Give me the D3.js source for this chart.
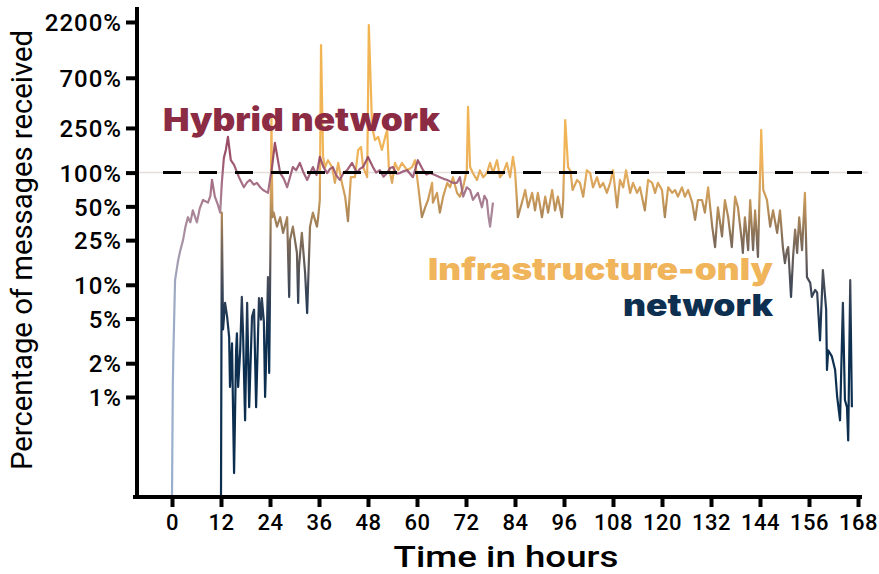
<!DOCTYPE html>
<html>
<head>
<meta charset="utf-8">
<script src="https://cdn.jsdelivr.net/npm/d3@7/dist/d3.min.js"></script>
<style>
  html, body { margin: 0; padding: 0; background: #fff; }
  svg { display: block; }
  .tick text { font-family: Roboto, "Noto Sans", sans-serif; font-weight: 500; fill: #000; }
</style>
</head>
<body>
<svg id="chart" width="879" height="574"></svg>
<script>
// Tick values (percent, log axis) and time ticks (hours)
const yTicks = [1, 2, 5, 10, 25, 50, 100, 250, 700, 2200];
const xTicks = [0, 12, 24, 36, 48, 60, 72, 84, 96, 108, 120, 132, 144, 156, 168];

// Hybrid network: [hour, % of messages received]
const hybridSeries = [
  [0,0],[0.2,1.3],[0.35,2.6],[0.75,11],[1.5,16.5],[2.0,20],[2.7,25],[3.3,33],[3.9,40],[4.5,36],
  [5.1,46],[6.1,36],[6.8,48],[7.6,57],[8.8,54],[9.4,62],[9.8,86],[10.5,61],[11.2,52],[11.8,44],
  [12.2,81],[12.7,135],[13.2,160],[13.7,208],[14.4,129],[15.2,117],[16.4,91],[17.6,74],[18.4,82],[19.1,86],
  [20.0,78],[20.8,81],[21.6,74],[22.3,70],[23.5,66],[24.5,112],[25.2,184],[26.5,99],[27.4,88],[28.2,74],
  [29.6,112],[30.4,105],[31.3,122],[32.2,100],[33.1,86],[34.5,112],[35.4,95],[36.2,138],[37.1,112],[38.0,99],
  [38.7,108],[39.4,112],[40.2,95],[41.1,86],[42.0,99],[42.9,105],[44.1,122],[45.3,99],[46.0,108],[46.8,112],
  [48.0,138],[49.2,112],[50.0,100],[50.9,105],[51.8,92],[52.7,99],[53.4,110],[54.1,112],[55.0,98],[55.8,99],
  [56.7,103],[57.6,105],[59.0,91],[60.2,129],[61.5,105],[62.3,96],[63.2,99],[64.4,95],[65.6,91],[66.5,88],
  [67.4,86],[68.8,81],[69.8,81],[70.5,91],[71.3,61],[72.2,74],[73.0,70],[73.7,57],[74.9,66],[75.4,57],
  [75.9,49],[76.5,62],[77.1,57],[77.5,41],[77.9,33],[78.6,54]
];

// Infrastructure-only network: [hour, % of messages received]
const infraSeries = [
  [12.0,0],[12.2,44],[12.5,4.0],[13.0,6.9],[13.5,5.2],[14.0,3.4],[14.2,1.23],[14.7,3.0],[14.9,1.0],[15.2,0.21],
  [15.7,2.6],[15.9,3.7],[16.2,1.23],[16.7,2.6],[17.1,7.8],[17.4,3.7],[17.9,0.62],[18.4,6.9],[18.9,0.81],[19.6,5.2],
  [20.1,6.0],[20.6,0.81],[21.3,7.6],[21.8,4.9],[22.0,7.6],[22.5,4.7],[22.8,1.0],[23.3,4.6],[23.5,11.7],[23.8,1.64],
  [24.1,20],[24.35,307],[24.6,40],[24.9,44],[25.7,33],[26.5,40],[27.2,29],[28.2,40],[28.7,7.8],[28.9,25],
  [29.6,33],[30.6,19.2],[30.9,6.9],[31.1,14.4],[31.8,29],[32.6,12.7],[33.1,5.6],[33.8,33],[34.5,44],[35.5,33],
  [35.8,40],[36.2,57],[36.5,1371],[37.0,138],[37.5,112],[38.2,129],[39.2,112],[39.9,81],[40.7,122],[41.6,81],
  [42.4,61],[43.1,37],[43.8,91],[44.8,91],[45.6,159],[46.3,169],[46.8,112],[47.8,91],[48.2,2068],[49.0,255],
  [49.7,195],[50.5,208],[51.4,159],[52.2,208],[52.7,240],[53.1,112],[53.9,81],[54.6,122],[55.4,105],[56.3,122],
  [57.6,105],[58.8,112],[59.5,129],[60.2,81],[61.2,40],[62.0,49],[62.7,57],[63.7,81],[63.9,54],[64.9,66],
  [65.6,44],[66.4,61],[67.4,81],[68.1,74],[68.8,91],[69.8,66],[70.5,61],[71.3,74],[72.2,105],[72.5,385],
  [73.0,112],[73.7,99],[74.7,86],[75.4,105],[76.2,91],[77.1,99],[77.9,122],[78.6,99],[79.6,129],[80.3,91],
  [81.1,99],[82.0,122],[82.8,91],[83.5,138],[84.0,105],[84.5,54],[84.7,40],[85.7,54],[86.5,70],[87.2,49],
  [88.2,66],[88.9,46],[89.6,66],[90.6,40],[91.4,61],[92.1,44],[93.1,70],[93.8,46],[94.5,61],[95.5,40],
  [95.8,57],[96.3,294],[97.0,112],[97.6,103],[98.1,70],[99.2,86],[99.9,81],[100.7,61],[101.6,105],[102.4,99],
  [103.1,74],[104.1,91],[104.8,74],[105.6,81],[106.5,66],[107.3,81],[108.0,105],[109.0,49],[109.7,86],[110.5,74],
  [111.2,105],[112.2,66],[112.9,81],[113.9,66],[114.6,74],[115.8,46],[116.6,86],[117.6,81],[118.3,66],[119.0,81],
  [120.0,70],[120.7,40],[121.5,74],[122.5,66],[123.2,70],[123.9,61],[124.9,74],[125.6,61],[126.4,70],[127.4,54],
  [128.1,38],[128.8,57],[129.8,57],[130.5,44],[131.3,74],[132.3,33],[133.0,21.7],[133.7,49],[134.7,27],[135.4,57],
  [136.2,40],[137.1,21.7],[137.9,61],[138.6,49],[139.6,23.6],[139.8,19.2],[140.3,40],[141.1,20.4],[141.6,57],[142.3,20.4],
  [142.8,46],[143.5,17.7],[144.3,240],[144.8,70],[145.7,57],[146.5,33],[147.2,46],[148.2,29],[148.9,46],[149.6,21.7],
  [150.1,15.6],[150.6,20.4],[150.9,21.7],[151.6,7.8],[152.1,17.7],[152.6,31],[153.1,19.2],[153.6,40],[154.3,20.4],[155.0,66],
  [155.5,11.7],[156.3,10.4],[156.7,7.8],[157.5,9.0],[158.0,8.5],[158.7,3.2],[159.4,13.5],[160.2,6.0],[160.4,1.74],[160.7,2.6],
  [161.6,2.3],[162.4,1.74],[162.9,1.0],[163.6,0.62],[164.3,6.9],[164.8,0.94],[165.3,0.81],[165.6,0.41],[166.1,11.0],[166.5,0.81]
];

const referenceLevel = 100;

const svg = d3.select("#chart");

// Scales
const yMin = 0.1284, yMax = 2992;
const x = d3.scaleLinear().domain([0, 168]).range([172, 858]);
const y = d3.scaleLog().domain([yMin, yMax]).range([497, 7]);
const yv = v => y(Math.max(v, yMin));

// Colour ramps follow the value on the y axis
const defs = svg.append("defs");
function ramp(id, stops) {
  const g = defs.append("linearGradient")
    .attr("id", id)
    .attr("gradientUnits", "userSpaceOnUse")
    .attr("x1", 0).attr("x2", 0)
    .attr("y1", y(yMax)).attr("y2", y(yMin));
  const span = y(yMin) - y(yMax);
  stops.forEach(([v, c]) => {
    g.append("stop")
      .attr("offset", ((y(v) - y(yMax)) / span).toFixed(4))
      .attr("stop-color", c);
  });
}
ramp("infraRamp", [
  [2992, "#f3b550"], [150, "#f0b458"], [100, "#e6ae5e"], [60, "#c99a5a"],
  [40, "#a98558"], [25, "#816d5a"], [12, "#4f5059"], [6, "#243a55"],
  [3, "#0d2f50"], [0.1284, "#0b2d4e"]
]);
ramp("hybridRamp", [
  [2992, "#8b2c46"], [150, "#8f3b56"], [100, "#995470"], [50, "#a07488"],
  [25, "#9e8598"], [10, "#939fba"], [2, "#8fa5c6"], [0.1284, "#8ea6c8"]
]);

// Faint reference rule at 100 %
svg.append("line")
  .attr("x1", 139).attr("x2", 868)
  .attr("y1", y(referenceLevel)).attr("y2", y(referenceLevel))
  .attr("stroke", "#e6dcdc").attr("stroke-width", 1.5);

const line = d3.line().x(d => x(d[0])).y(d => yv(d[1]));

svg.append("path")
  .datum(infraSeries)
  .attr("d", line)
  .attr("fill", "none")
  .attr("stroke", "url(#infraRamp)")
  .attr("stroke-width", 2.2)
  .attr("stroke-linejoin", "round");

svg.append("path")
  .datum(hybridSeries)
  .attr("d", line)
  .attr("fill", "none")
  .attr("stroke", "url(#hybridRamp)")
  .attr("stroke-width", 2.2)
  .attr("stroke-linejoin", "round")
  .attr("opacity", 0.9);

// Dashed 100 % line
svg.append("line")
  .attr("x1", 163).attr("x2", 862)
  .attr("y1", y(referenceLevel)).attr("y2", y(referenceLevel))
  .attr("stroke", "#000").attr("stroke-width", 3)
  .attr("stroke-dasharray", "18,18");

// Axes
const yAxis = d3.axisLeft(y)
  .tickValues(yTicks)
  .tickFormat(d => d + "%")
  .tickSize(11).tickPadding(4).tickSizeOuter(0);
const gy = svg.append("g").attr("transform", "translate(137,0)").call(yAxis);
gy.select(".domain").remove();
gy.selectAll(".tick line").attr("stroke", "#000").attr("stroke-width", 4);
gy.selectAll(".tick text").attr("font-size", 24).attr("letter-spacing", 1).attr("dy", "0.36em");

const xAxis = d3.axisBottom(x)
  .tickValues(xTicks)
  .tickSize(10).tickPadding(7).tickSizeOuter(0);
const gx = svg.append("g").attr("transform", "translate(0,497)").call(xAxis);
gx.select(".domain").remove();
gx.selectAll(".tick line").attr("stroke", "#000").attr("stroke-width", 4);
gx.selectAll(".tick text").attr("font-size", 22).attr("letter-spacing", 0.5);

svg.append("line").attr("x1", 137).attr("x2", 137).attr("y1", 7).attr("y2", 499)
  .attr("stroke", "#000").attr("stroke-width", 4);
svg.append("line").attr("x1", 133).attr("x2", 862).attr("y1", 497).attr("y2", 497)
  .attr("stroke", "#000").attr("stroke-width", 4);

// Axis titles
svg.append("text")
  .attr("x", 506).attr("y", 567)
  .attr("text-anchor", "middle")
  .attr("font-family", "Roboto, sans-serif").attr("font-weight", 500)
  .attr("font-size", 30)
  .attr("textLength", 225).attr("lengthAdjust", "spacingAndGlyphs")
  .text("Time in hours");

svg.append("text")
  .attr("transform", "translate(32,250) rotate(-90)")
  .attr("text-anchor", "middle")
  .attr("font-family", "Roboto, sans-serif").attr("font-weight", 400)
  .attr("font-size", 29)
  .attr("textLength", 440).attr("lengthAdjust", "spacingAndGlyphs")
  .text("Percentage of messages received");

// Series labels
const labelFont = "Inter, Lato, 'Noto Sans', sans-serif";
svg.append("text")
  .attr("x", 163).attr("y", 131)
  .attr("font-family", labelFont).attr("font-weight", 900).attr("font-size", 32)
  .attr("fill", "#8b2c44")
  .attr("textLength", 277).attr("lengthAdjust", "spacingAndGlyphs")
  .text("Hybrid network");
svg.append("text")
  .attr("x", 428).attr("y", 280)
  .attr("font-family", labelFont).attr("font-weight", 900).attr("font-size", 30)
  .attr("fill", "#f0b45a")
  .attr("textLength", 345).attr("lengthAdjust", "spacingAndGlyphs")
  .text("Infrastructure-only");
svg.append("text")
  .attr("x", 623).attr("y", 316)
  .attr("font-family", labelFont).attr("font-weight", 900).attr("font-size", 30)
  .attr("fill", "#0d3050")
  .attr("textLength", 150).attr("lengthAdjust", "spacingAndGlyphs")
  .text("network");
</script>
</body>
</html>
